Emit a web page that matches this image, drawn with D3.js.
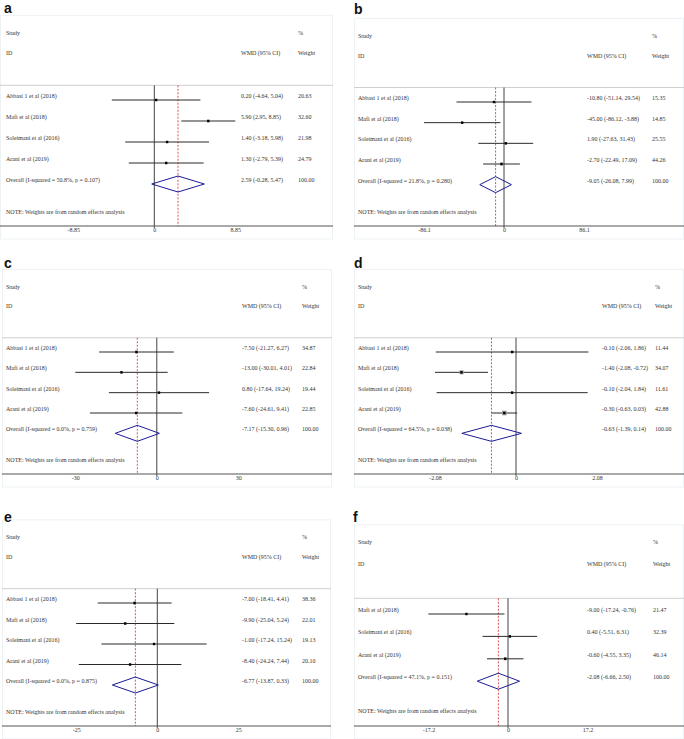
<!DOCTYPE html>
<html><head><meta charset="utf-8">
<script src="https://cdn.jsdelivr.net/npm/d3@7"></script>
<style>html,body{margin:0;padding:0;background:#fff;}svg{display:block;}text{-webkit-font-smoothing:antialiased;}</style>
</head><body>
<script>
// ---------------- DATA ----------------
const studies4 = ["Abbasi 1 et al (2018)", "Mafi et al (2018)", "Soleimani et al (2016)", "Arani et al (2019)"];
const studies3 = ["Mafi et al (2018)", "Soleimani et al (2016)", "Arani et al (2019)"];

const aEst = [0.20, 5.90, 1.40, 1.30], aLo = [-4.64, 2.95, -3.18, -2.79], aHi = [5.04, 8.85, 5.98, 5.39], aW = [20.63, 32.60, 21.98, 24.79];
const aOverall = [2.59, -0.28, 5.47], aHet = ["50.8%", "0.107"], aTick = 8.85, aTickLabels = ["-8.85", "0", "8.85"];

const bEst = [-10.80, -45.00, 1.90, -2.70], bLo = [-51.14, -86.12, -27.63, -22.49], bHi = [29.54, -3.88, 31.43, 17.09], bW = [15.35, 14.85, 25.55, 44.26];
const bOverall = [-9.05, -26.08, 7.99], bHet = ["21.8%", "0.280"], bTick = 86.1, bTickLabels = ["-86.1", "0", "86.1"];

const cEst = [-7.50, -13.00, 0.80, -7.60], cLo = [-21.27, -30.01, -17.64, -24.61], cHi = [6.27, 4.01, 19.24, 9.41], cW = [34.87, 22.84, 19.44, 22.85];
const cOverall = [-7.17, -15.30, 0.96], cHet = ["0.0%", "0.759"], cTick = 30, cTickLabels = ["-30", "0", "30"];

const dEst = [-0.10, -1.40, -0.10, -0.30], dLo = [-2.06, -2.08, -2.04, -0.63], dHi = [1.86, -0.72, 1.84, 0.03], dW = [11.44, 34.07, 11.61, 42.88];
const dOverall = [-0.63, -1.39, 0.14], dHet = ["64.5%", "0.038"], dTick = 2.08, dTickLabels = ["-2.08", "0", "2.08"];

const eEst = [-7.00, -9.90, -1.00, -8.40], eLo = [-18.41, -25.04, -17.24, -24.24], eHi = [4.41, 5.24, 15.24, 7.44], eW = [38.36, 22.01, 19.13, 20.10];
const eOverall = [-6.77, -13.87, 0.33], eHet = ["0.0%", "0.875"], eTick = 25, eTickLabels = ["-25", "0", "25"];

const fEst = [-9.00, 0.40, -0.60], fLo = [-17.24, -5.51, -4.55], fHi = [-0.76, 6.31, 3.35], fW = [21.47, 32.39, 46.14];
const fOverall = [-2.08, -6.66, 2.50], fHet = ["47.1%", "0.151"], fTick = 17.2, fTickLabels = ["-17.2", "0", "17.2"];

const panelLetters = ["a", "b", "c", "d", "e", "f"];

// ---------------- LAYOUT (positions/styles) ----------------
const layout = [
  {ox: 0,   right: 333, textX: 6,   zeroX: 154.3, half: 81,  firstY: 100, axisY: 226, wmdX: 241, wX: 298, lx: 4,   ly: 13,  box: 0.45},
  {ox: 354, right: 684, textX: 358, zeroX: 504,   half: 80,  firstY: 102, axisY: 226, wmdX: 587, wX: 652, lx: 354, ly: 14,  box: 0.45},
  {ox: 2,   right: 332, textX: 6,   zeroX: 156.8, half: 81.5,firstY: 352, axisY: 474, wmdX: 242, wX: 302, lx: 4,   ly: 268, box: 0.45},
  {ox: 354, right: 684, textX: 358, zeroX: 516,   half: 81,  firstY: 352, axisY: 474, wmdX: 602, wX: 655, lx: 354, ly: 268, box: 0.7},
  {ox: 2,   right: 331, textX: 6,   zeroX: 157.3, half: 81,  firstY: 603, axisY: 726, wmdX: 242, wX: 302, lx: 4,   ly: 522, box: 0.45},
  {ox: 354, right: 684, textX: 358, zeroX: 508,   half: 79.5,firstY: 614, axisY: 726, wmdX: 587, wX: 653, lx: 353, ly: 522, box: 0.45}
];

const panels = [
  {studies: studies4, est: aEst, lo: aLo, hi: aHi, w: aW, overall: aOverall, het: aHet, tick: aTick, tickLabels: aTickLabels},
  {studies: studies4, est: bEst, lo: bLo, hi: bHi, w: bW, overall: bOverall, het: bHet, tick: bTick, tickLabels: bTickLabels},
  {studies: studies4, est: cEst, lo: cLo, hi: cHi, w: cW, overall: cOverall, het: cHet, tick: cTick, tickLabels: cTickLabels},
  {studies: studies4, est: dEst, lo: dLo, hi: dHi, w: dW, overall: dOverall, het: dHet, tick: dTick, tickLabels: dTickLabels},
  {studies: studies4, est: eEst, lo: eLo, hi: eHi, w: eW, overall: eOverall, het: eHet, tick: eTick, tickLabels: eTickLabels},
  {studies: studies3, est: fEst, lo: fLo, hi: fHi, w: fW, overall: fOverall, het: fHet, tick: fTick, tickLabels: fTickLabels}
];

// ---------------- DRAW ----------------
const W = 684, H = 739;
const svg = d3.select("body").append("svg").attr("width", W).attr("height", H);
const f2 = v => v.toFixed(2);
const SERIF = "'Liberation Serif','Times New Roman',serif";
const TXT = "#333";

panels.forEach((p, k) => {
  const L = layout[k];
  const g = svg.append("g");
  const n = p.studies.length;
  const step = (L.axisY - L.firstY) / (n + 2);
  const y = d3.scaleLinear().domain([0, 1]).range([L.firstY, L.firstY + step]);
  const x = d3.scaleLinear().domain([-p.tick, p.tick]).range([L.zeroX - L.half, L.zeroX + L.half]);
  const topLineY = y(-0.7);
  const studyY = y(-3.2), idY = y(-2.24);

  // faint panel frame
  g.append("rect").attr("x", L.ox + 0.5).attr("y", studyY - 17.5)
    .attr("width", L.right - L.ox - 1).attr("height", L.axisY + 13 - (studyY - 17.5))
    .attr("fill", "none").attr("stroke", "#edf2f5").attr("stroke-width", 1);

  // panel letter
  g.append("text").attr("x", L.lx).attr("y", L.ly).text(panelLetters[k])
    .attr("font-family", "'Liberation Sans',Arial,sans-serif").attr("font-weight", "bold")
    .attr("font-size", 14).attr("fill", "#111");

  const txt = (xx, yy, s, anchor) => g.append("text").attr("x", xx).attr("y", yy).text(s)
    .attr("font-family", SERIF).attr("font-size", 6).attr("fill", TXT)
    .attr("text-anchor", anchor || "start");

  // headers
  txt(L.textX, studyY + 2, "Study");
  txt(L.wX, studyY + 2, "%");
  txt(L.textX, idY + 2, "ID");
  txt(L.wmdX, idY + 2, "WMD (95% CI)");
  txt(L.wX, idY + 2, "Weight");

  // top separator
  g.append("line").attr("x1", L.ox).attr("x2", L.right).attr("y1", topLineY).attr("y2", topLineY)
    .attr("stroke", "#cfcfcf").attr("stroke-width", 1);

  // zero line
  g.append("line").attr("x1", x(0)).attr("x2", x(0)).attr("y1", topLineY).attr("y2", L.axisY + 2)
    .attr("stroke", "#444").attr("stroke-width", 1);

  // overall dashed line
  g.append("line").attr("x1", x(p.overall[0])).attr("x2", x(p.overall[0]))
    .attr("y1", topLineY).attr("y2", L.axisY)
    .attr("stroke", "#d42a2a").attr("stroke-width", 0.8).attr("stroke-dasharray", "2,1.5");

  // study rows
  p.studies.forEach((s, i) => {
    const yy = y(i);
    txt(L.textX, yy - 2, s);
    txt(L.wmdX, yy - 2, `${f2(p.est[i])} (${f2(p.lo[i])}, ${f2(p.hi[i])})`);
    txt(L.wX, yy - 2, f2(p.w[i]));
    g.append("line").attr("x1", x(p.lo[i])).attr("x2", x(p.hi[i])).attr("y1", yy).attr("y2", yy)
      .attr("stroke", "#2a2a2a").attr("stroke-width", 1);
    const bs = Math.max(2, L.box * Math.sqrt(p.w[i]));
    g.append("rect").attr("x", x(p.est[i]) - bs / 2).attr("y", yy - bs / 2).attr("width", bs).attr("height", bs)
      .attr("fill", "#9a9a9a");
    g.append("rect").attr("x", x(p.est[i]) - 1.2).attr("y", yy - 1.2).attr("width", 2.4).attr("height", 2.4)
      .attr("fill", "#000");
  });

  // overall row
  const oy = y(n);
  txt(L.textX, oy - 2, `Overall  (I-squared = ${p.het[0]}, p = ${p.het[1]})`);
  txt(L.wmdX, oy - 2, `${f2(p.overall[0])} (${f2(p.overall[1])}, ${f2(p.overall[2])})`);
  txt(L.wX, oy - 2, f2(100));
  const dh = 8;
  const dpts = [[x(p.overall[1]), oy], [x(p.overall[0]), oy - dh], [x(p.overall[2]), oy], [x(p.overall[0]), oy + dh]];
  g.append("path").attr("d", d3.line()(dpts) + "Z").attr("fill", "none")
    .attr("stroke", "#1c1c96").attr("stroke-width", 1);

  // note
  txt(L.textX, y(n + 1.5) - 2, "NOTE: Weights are from random effects analysis");

  // axis
  const axis = d3.axisBottom(x).tickValues([-p.tick, 0, p.tick]).tickSize(0).tickPadding(2)
    .tickFormat((d, i) => p.tickLabels[i]);
  const ag = g.append("g").attr("transform", `translate(0,${L.axisY})`).call(axis);
  ag.select(".domain").remove();
  ag.selectAll("text").attr("font-family", SERIF).attr("font-size", 6).attr("fill", TXT);
  g.append("line").attr("x1", L.ox).attr("x2", L.right).attr("y1", L.axisY).attr("y2", L.axisY)
    .attr("stroke", "#555").attr("stroke-width", 1.2);
});
</script>
</body></html>
